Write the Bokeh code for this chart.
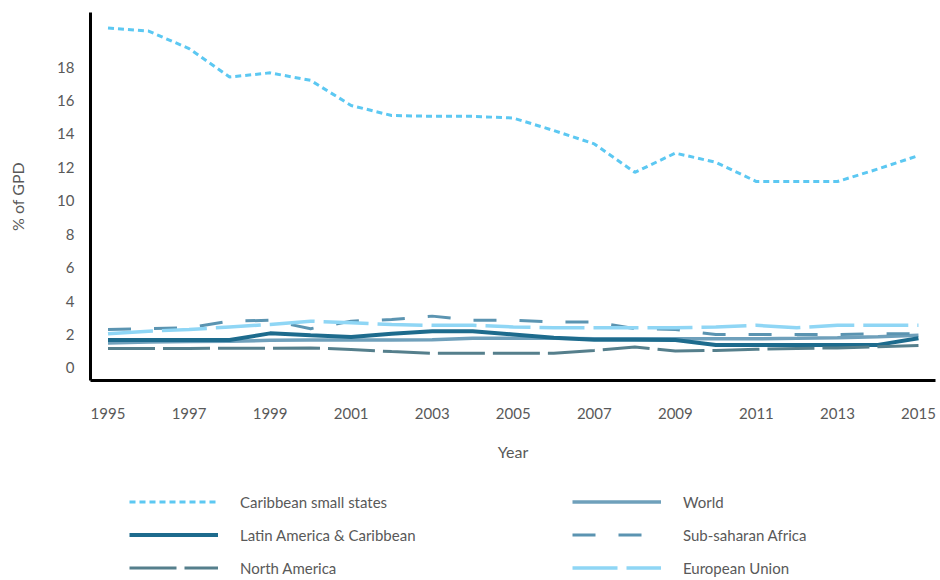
from bokeh.plotting import figure
from bokeh.layouts import column
from bokeh.models import Legend, LegendItem, FixedTicker
from bokeh.embed import file_html
from bokeh.resources import INLINE

years = list(range(1995, 2016))
caribbean = [20.33, 20.15, 19.1, 17.4, 17.65, 17.2, 15.7, 15.1, 15.05, 15.05, 14.95,
             14.2, 13.4, 11.7, 12.85, 12.3, 11.15, 11.15, 11.15, 11.9, 12.7]
latam = [1.67, 1.67, 1.67, 1.67, 2.07, 1.95, 1.85, 2.05, 2.2, 2.2, 2.0,
         1.8, 1.68, 1.68, 1.67, 1.37, 1.37, 1.37, 1.37, 1.38, 1.78]
north_america = [1.17, 1.17, 1.17, 1.18, 1.18, 1.2, 1.1, 0.98, 0.88, 0.88, 0.88,
                 0.88, 1.05, 1.25, 1.02, 1.05, 1.12, 1.17, 1.2, 1.27, 1.35]
world = [1.5, 1.55, 1.58, 1.6, 1.65, 1.67, 1.67, 1.67, 1.68, 1.77, 1.77,
         1.77, 1.75, 1.75, 1.75, 1.75, 1.75, 1.77, 1.8, 1.87, 1.95]
ssa = [2.3, 2.35, 2.4, 2.8, 2.85, 2.35, 2.8, 2.9, 3.1, 2.85, 2.85,
       2.75, 2.75, 2.35, 2.3, 2.0, 2.0, 2.0, 2.0, 2.05, 2.05]
eu = [2.05, 2.2, 2.3, 2.45, 2.6, 2.8, 2.7, 2.6, 2.55, 2.55, 2.45,
      2.4, 2.4, 2.4, 2.4, 2.45, 2.55, 2.4, 2.55, 2.55, 2.55]

series_names = ["Caribbean small states", "Latin America & Caribbean", "North America",
                "World", "Sub-saharan Africa", "European Union"]

x_ticks = list(range(1995, 2016, 2))
y_ticks = list(range(0, 19, 2))

FONT = "Lato"
TXT = "#595959"

styles = {
    "Caribbean small states": dict(line_color="#5cc8f2", line_width=3, line_dash="6 4"),
    "World": dict(line_color="#6fa0bb", line_width=3.5),
    "Latin America & Caribbean": dict(line_color="#1d6b8d", line_width=4),
    "Sub-saharan Africa": dict(line_color="#5b94b1", line_width=3, line_dash="23 23"),
    "North America": dict(line_color="#557f8c", line_width=3, line_dash="47 8"),
    "European Union": dict(line_color="#8fd6f5", line_width=3.5, line_dash="45 9"),
}
data = {
    "Caribbean small states": caribbean,
    "World": world,
    "Latin America & Caribbean": latam,
    "Sub-saharan Africa": ssa,
    "North America": north_america,
    "European Union": eu,
}

p = figure(width=940, height=470, x_range=(1994.568, 2015.42), y_range=(-0.75, 21.26),
           output_backend="svg", toolbar_location=None,
           min_border_left=90, min_border_right=5, min_border_top=12, min_border_bottom=90)
p.outline_line_color = None
p.grid.visible = False

for name in ["Caribbean small states", "World", "Latin America & Caribbean",
             "Sub-saharan Africa", "North America", "European Union"]:
    p.line(years, data[name], **styles[name])

for ax in (p.xaxis[0], p.yaxis[0]):
    ax.axis_line_color = "black"
    ax.axis_line_width = 3
    ax.major_tick_line_color = None
    ax.minor_tick_line_color = None
    ax.major_tick_out = 0
    ax.major_tick_in = 0
    ax.major_label_text_font = FONT
    ax.major_label_text_font_size = "15px"
    ax.major_label_text_color = TXT
    ax.axis_label_text_font = FONT
    ax.axis_label_text_font_size = "16px"
    ax.axis_label_text_color = TXT
    ax.axis_label_text_font_style = "normal"

p.xaxis.ticker = FixedTicker(ticks=x_ticks)
p.yaxis.ticker = FixedTicker(ticks=y_ticks)
p.xaxis.axis_label = "Year"
p.yaxis.axis_label = "% of GPD"
p.xaxis.major_label_standoff = 27
p.xaxis.axis_label_standoff = 20
p.yaxis.major_label_standoff = 16
p.yaxis.axis_label_standoff = 27

# legend panel (its renderers are hidden; only their legend glyphs show)
pl = figure(width=940, height=110, x_axis_type=None, y_axis_type=None,
            output_backend="svg", toolbar_location=None,
            min_border_left=0, min_border_right=0, min_border_top=0, min_border_bottom=0)
pl.outline_line_color = None
pl.grid.visible = False
items = []
for name in series_names:
    r = pl.line(years, data[name], visible=False, **styles[name])
    items.append(LegendItem(label=name, renderers=[r]))

legend = Legend(items=items, location=(39, 2), orientation="vertical", nrows=3)
legend.glyph_width = 89
legend.glyph_height = 21
legend.label_height = 21
legend.label_width = 320
legend.label_standoff = 22
legend.spacing = 12
legend.padding = 0
legend.margin = 0
legend.border_line_color = None
legend.background_fill_alpha = 0
legend.inactive_fill_alpha = 0
legend.label_text_font = FONT
legend.label_text_font_size = "15px"
legend.label_text_color = TXT
pl.add_layout(legend, "center")

layout = column(p, pl, spacing=0)
open("out.html", "w").write(file_html(layout, INLINE))
